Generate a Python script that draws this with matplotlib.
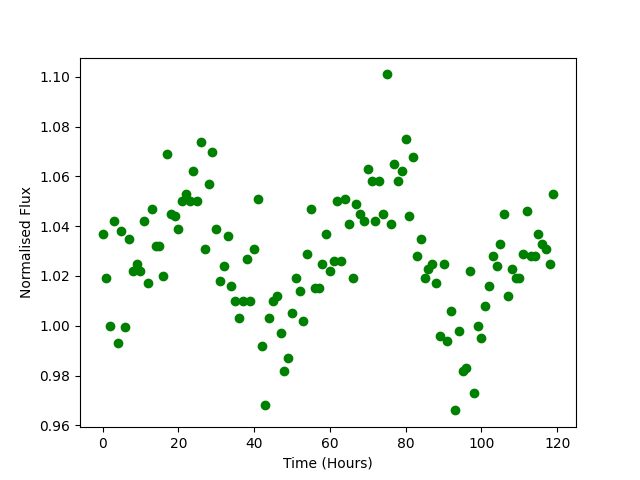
import numpy as np
import matplotlib
matplotlib.use('Agg')
import matplotlib.pyplot as plt

# hourly samples
time_hours = np.arange(120)

flux = [
    1.037, 1.019, 1.000, 1.042, 0.993, 1.038, 0.9995, 1.035, 1.022, 1.025,
    1.022, 1.042, 1.017, 1.047, 1.032, 1.032, 1.020, 1.069, 1.045, 1.044,
    1.039, 1.050, 1.053, 1.050, 1.062, 1.050, 1.074, 1.031, 1.057, 1.070,
    1.039, 1.018, 1.024, 1.036, 1.016, 1.010, 1.003, 1.010, 1.027, 1.010,
    1.031, 1.051, 0.992, 0.968, 1.003, 1.010, 1.012, 0.997, 0.982, 0.987,
    1.005, 1.019, 1.014, 1.002, 1.029, 1.047, 1.015, 1.015, 1.025, 1.037,
    1.022, 1.026, 1.050, 1.026, 1.051, 1.041, 1.019, 1.049, 1.045, 1.042,
    1.063, 1.058, 1.042, 1.058, 1.045, 1.101, 1.041, 1.065, 1.058, 1.062,
    1.075, 1.044, 1.068, 1.028, 1.035, 1.019, 1.023, 1.025, 1.017, 0.996,
    1.025, 0.994, 1.006, 0.966, 0.998, 0.982, 0.983, 1.022, 0.973, 1.000,
    0.995, 1.008, 1.016, 1.028, 1.024, 1.033, 1.045, 1.012, 1.023, 1.019,
    1.019, 1.029, 1.046, 1.028, 1.028, 1.037, 1.033, 1.031, 1.025, 1.053,
]

fig = plt.figure(figsize=(6.4, 4.8), dpi=100)
plt.plot(time_hours, flux, 'o', color='green')
plt.xlabel('Time (Hours)')
plt.ylabel('Normalised Flux')
plt.savefig('out.png')
